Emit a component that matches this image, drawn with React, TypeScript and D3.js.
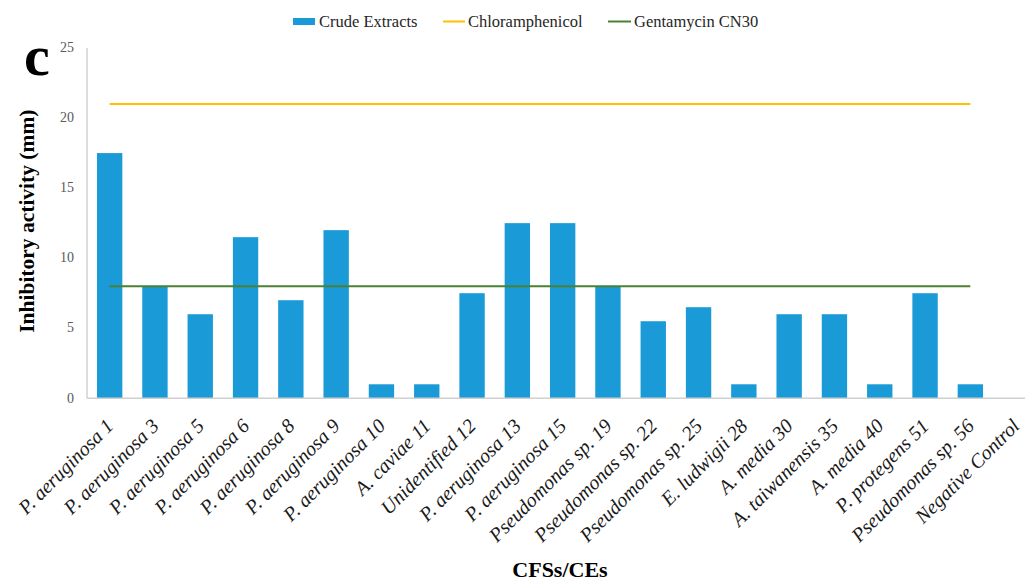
import React from "react";
import * as d3 from "d3";

// Strains / extracts tested
const categories = [
  "P. aeruginosa 1",
  "P. aeruginosa 3",
  "P. aeruginosa 5",
  "P. aeruginosa 6",
  "P. aeruginosa 8",
  "P. aeruginosa 9",
  "P. aeruginosa 10",
  "A. caviae 11",
  "Unidentified 12",
  "P. aeruginosa 13",
  "P. aeruginosa 15",
  "Pseudomonas sp. 19",
  "Pseudomonas sp. 22",
  "Pseudomonas sp. 25",
  "E. ludwigii 28",
  "A. media 30",
  "A. taiwanensis 35",
  "A. media 40",
  "P. protegens 51",
  "Pseudomonas sp. 56",
  "Negative Control",
];

// Inhibition zone of crude extracts (mm)
const crudeExtracts = [
  17.5, 8, 6, 11.5, 7, 12, 1, 1, 7.5, 12.5, 12.5, 8, 5.5, 6.5, 1, 6, 6, 1, 7.5, 1, 0,
];

// Reference antibiotic levels (mm)
const chloramphenicol = 21;
const gentamycin = 8;

const yTicks = [0, 5, 10, 15, 20, 25];

const W = 1025;
const H = 585;
const plotLeft = 87;
const plotTop = 48;
const plotBottom = 398.3;
const step = 45.3;

const BLUE = "#1a9ad6";
const ORANGE = "#ffc000";
const GREEN = "#4d8132";
const SERIF = "'Liberation Serif', 'Times New Roman', serif";

export default function App() {
  const x = d3
    .scaleBand<string>()
    .domain(categories)
    .range([plotLeft, plotLeft + step * categories.length])
    .paddingInner(0.44)
    .paddingOuter(0.22);

  const y = d3.scaleLinear().domain([0, 25]).range([plotBottom, plotTop]);

  const center = (c: string) => (x(c) ?? 0) + x.bandwidth() / 2;
  const firstC = center(categories[0]);
  const lastC = center(categories[categories.length - 2]);

  const refLine = d3
    .line<number>()
    .x((d) => d)
    .y(() => 0);

  return (
    <svg
      width={W}
      height={H}
      style={{ position: "absolute", left: 0, top: 0, background: "#fff" }}
      fontFamily={SERIF}
    >
      {/* legend */}
      <g fontSize={16.5} fill="#262626">
        <rect x={293} y={18} width={22} height={7} fill={BLUE} />
        <text x={319} y={26.5}>Crude Extracts</text>
        <line x1={443} x2={465} y1={21.5} y2={21.5} stroke={ORANGE} strokeWidth={2} />
        <text x={468} y={26.5}>Chloramphenicol</text>
        <line x1={608} x2={631} y1={21.5} y2={21.5} stroke={GREEN} strokeWidth={2} />
        <text x={634} y={26.5}>Gentamycin CN30</text>
      </g>

      {/* panel letter */}
      <text x={24} y={75} fontSize={58} fontWeight="bold" fill="#000">
        c
      </text>

      {/* y axis */}
      <line x1={plotLeft} x2={plotLeft} y1={plotTop} y2={plotBottom} stroke="#d0d0d0" strokeWidth={1.5} />
      {yTicks.map((t) => (
        <text
          key={t}
          x={74}
          y={y(t)}
          dy="0.3em"
          textAnchor="end"
          fontSize={14}
          fill="#595959"
        >
          {t}
        </text>
      ))}
      <text
        transform={`translate(34, ${(plotTop + plotBottom) / 2 - 2}) rotate(-90)`}
        textAnchor="middle"
        fontSize={21.5}
        fontWeight="bold"
        fill="#000"
      >
        Inhibitory activity (mm)
      </text>

      {/* bars */}
      {categories.map((c, i) => (
        <rect
          key={c}
          x={x(c)}
          y={y(crudeExtracts[i])}
          width={x.bandwidth()}
          height={y(0) - y(crudeExtracts[i])}
          fill={BLUE}
        />
      ))}

      {/* x axis */}
      <line x1={plotLeft} x2={W} y1={plotBottom} y2={plotBottom} stroke="#d0d0d0" strokeWidth={1.5} />

      {/* reference lines */}
      <path
        d={refLine([firstC, lastC]) ?? ""}
        transform={`translate(0, ${y(chloramphenicol)})`}
        stroke={ORANGE}
        strokeWidth={2}
        fill="none"
      />
      <path
        d={refLine([firstC, lastC]) ?? ""}
        transform={`translate(0, ${y(gentamycin)})`}
        stroke={GREEN}
        strokeWidth={2}
        fill="none"
      />

      {/* category labels */}
      {categories.map((c) => (
        <text
          key={c}
          transform={`translate(${center(c) + 5}, ${plotBottom + 29}) rotate(-45)`}
          textAnchor="end"
          fontSize={20}
          fontStyle="italic"
          fill="#1a1a1a"
        >
          {c}
        </text>
      ))}

      <text x={560} y={577} textAnchor="middle" fontSize={22} fontWeight="bold" fill="#000">
        CFSs/CEs
      </text>
    </svg>
  );
}
